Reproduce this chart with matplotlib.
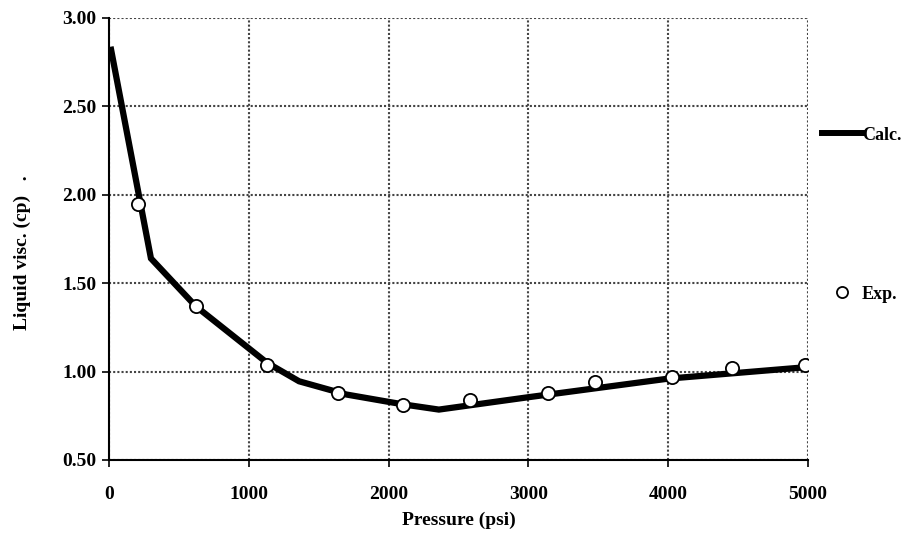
import matplotlib.pyplot as plt
from matplotlib.lines import Line2D

plt.rcParams['font.family'] = ['Liberation Serif', 'DejaVu Serif']

# Calculated viscosity curve
calc_p = [15, 300, 620, 1130, 1360, 1700, 2100, 2360, 3000, 4000, 4990]
calc_v = [2.82, 1.64, 1.37, 1.05, 0.945, 0.87, 0.815, 0.785, 0.855, 0.96, 1.025]

# Experimental points
exp_p = [210, 620, 1130, 1640, 2100, 2580, 3140, 3480, 4030, 4460, 4980]
exp_v = [1.95, 1.37, 1.04, 0.88, 0.81, 0.84, 0.88, 0.94, 0.97, 1.02, 1.04]

xticks = [0, 1000, 2000, 3000, 4000, 5000]
yticks = [0.5, 1.0, 1.5, 2.0, 2.5, 3.0]

fig = plt.figure(figsize=(9.1, 5.43), dpi=100)
ax = fig.add_axes([0.1198, 0.1529, 0.768, 0.814])

ax.plot(calc_p, calc_v, color='black', linewidth=4.5, solid_joinstyle='miter', zorder=3)
ax.plot(exp_p, exp_v, linestyle='none', marker='o', markersize=9.5,
        markerfacecolor='white', markeredgecolor='black', markeredgewidth=1.3, zorder=4)

ax.set_xlim(0, 5000)
ax.set_ylim(0.5, 3.0)
ax.set_xticks(xticks)
ax.set_yticks(yticks)
ax.set_xticklabels([str(t) for t in xticks], fontsize=14, fontweight='bold')
ax.set_yticklabels([f"{t:.2f}" for t in yticks], fontsize=14, fontweight='bold')
ax.tick_params(direction='out', length=5, width=1.2, colors='black')
ax.tick_params(axis='x', pad=14)
ax.tick_params(axis='y', pad=4)

ax.grid(True, color='#444444', linestyle=(0, (1, 1)), linewidth=1.5)
ax.set_axisbelow(True)
for s in ['top', 'right']:
    ax.spines[s].set_visible(False)
for s in ['left', 'bottom']:
    ax.spines[s].set_linewidth(1.5)

ax.set_xlabel("Pressure (psi)", fontsize=14, fontweight='bold', labelpad=6)
ax.set_ylabel("Liquid visc. (cp)   .", fontsize=14, fontweight='bold')
ax.yaxis.set_label_coords(-0.111, 0.47)

h_calc = Line2D([], [], color='black', linewidth=4.3)
h_exp = Line2D([], [], linestyle='none', marker='o', markersize=8,
               markerfacecolor='white', markeredgecolor='black', markeredgewidth=1.3)
leg1 = ax.legend([h_calc], ["Calc."], loc='center left', bbox_to_anchor=(0.997, 0.735),
                 frameon=False, handlelength=2.2, handletextpad=0.0,
                 prop={'family': 'Liberation Serif', 'size': 13, 'weight': 'bold'})
ax.add_artist(leg1)
ax.legend([h_exp], ["Exp."], loc='center left', bbox_to_anchor=(0.997, 0.375),
          frameon=False, handlelength=2.2, handletextpad=0.0,
          prop={'family': 'Liberation Serif', 'size': 13, 'weight': 'bold'})

fig.savefig("out.png", dpi=100)
